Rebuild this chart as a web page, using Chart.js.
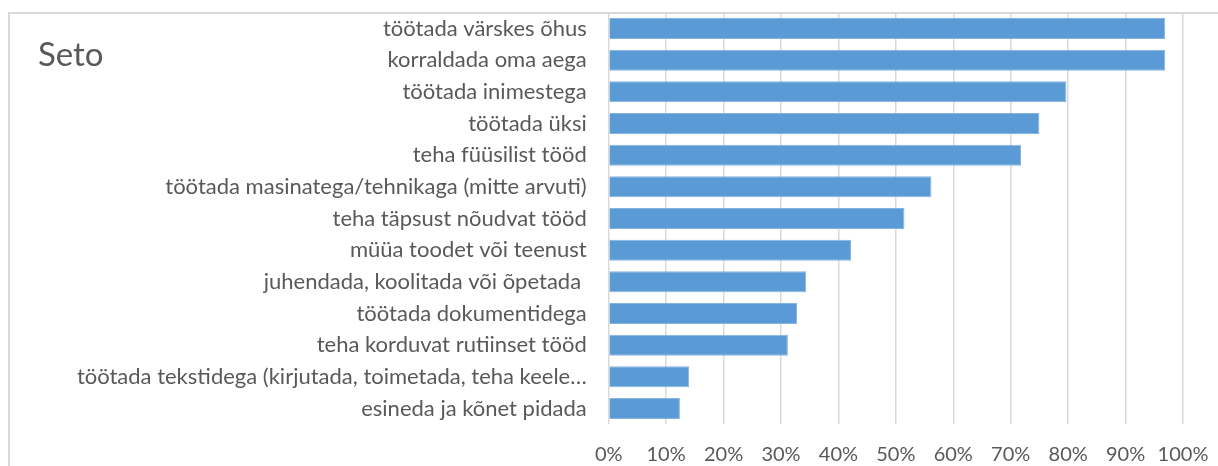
<!DOCTYPE html>
<html>
<head>
<meta charset="utf-8">
<script src="https://cdn.jsdelivr.net/npm/chart.js@4/dist/chart.umd.min.js"></script>
<style>
  html, body { margin: 0; padding: 0; background: #ffffff; }
  #wrap { width: 1218px; height: 466px; position: relative; }
</style>
</head>
<body>
<div id="wrap"><canvas id="c" width="1218" height="466"></canvas></div>
<script>
const chartTitle = "Seto";
const categories = [
  "töötada värskes õhus",
  "korraldada oma aega",
  "töötada inimestega",
  "töötada üksi",
  "teha füüsilist tööd",
  "töötada masinatega/tehnikaga (mitte arvuti)",
  "teha täpsust nõudvat tööd",
  "müüa toodet või teenust",
  "juhendada, koolitada või õpetada ",
  "töötada dokumentidega",
  "teha korduvat rutiinset tööd",
  "töötada tekstidega (kirjutada, toimetada, teha keele…",
  "esineda ja kõnet pidada"
];
const values = [96.9, 96.9, 79.7, 75.0, 71.8, 56.2, 51.5, 42.2, 34.4, 32.8, 31.2, 14.0, 12.4];
const axisMin = 0;
const axisMax = 100;
const axisStep = 10;

const FONT = "Lato, 'Open Sans', sans-serif";
const TEXT = "#595959";

const decor = {
  id: "decor",
  beforeDraw(chart) {
    const ctx = chart.ctx;
    ctx.save();
    ctx.fillStyle = "#ffffff";
    ctx.fillRect(0, 0, chart.width, chart.height);
    ctx.strokeStyle = "#D9D9D9";
    ctx.lineWidth = 2;
    ctx.strokeRect(9, 13, 1400, 700);
    ctx.restore();
  },
  afterDraw(chart) {
    const ctx = chart.ctx;
    ctx.save();
    ctx.fillStyle = TEXT;
    ctx.font = "33px " + FONT;
    ctx.textBaseline = "alphabetic";
    ctx.textAlign = "left";
    ctx.fillText(chartTitle, 38, 66);
    ctx.restore();
  }
};

new Chart(document.getElementById("c"), {
  type: "bar",
  data: {
    labels: categories,
    datasets: [{
      data: values,
      backgroundColor: "#5B9BD5",
      borderColor: "#86B4E0",
      borderWidth: 1,
      categoryPercentage: 1.0,
      barPercentage: 0.663
    }]
  },
  options: {
    indexAxis: "y",
    responsive: false,
    animation: false,
    devicePixelRatio: 1,
    layout: { autoPadding: false, padding: { left: 0, right: 35, top: 12.7, bottom: 0 } },
    plugins: {
      legend: { display: false },
      title: { display: false },
      tooltip: { enabled: false }
    },
    scales: {
      x: {
        min: axisMin,
        max: axisMax,
        ticks: {
          stepSize: axisStep,
          color: TEXT,
          font: { family: FONT, size: 20 },
          padding: 18,
          maxRotation: 0,
          callback: v => v + "%"
        },
        grid: { color: "#D9D9D9", lineWidth: 1.5, drawTicks: false },
        border: { display: false },
        afterFit(scale) { scale.height = 41.7; scale.paddingLeft = 0; scale.paddingRight = 0; }
      },
      y: {
        ticks: {
          color: TEXT,
          font: { family: FONT, size: 22 },
          padding: 22,
          autoSkip: false
        },
        grid: { display: false, drawTicks: false },
        border: { display: false },
        afterFit(scale) { scale.width = 608.7; scale.paddingTop = 0; scale.paddingBottom = 0; }
      }
    }
  },
  plugins: [decor]
});
</script>
</body>
</html>
